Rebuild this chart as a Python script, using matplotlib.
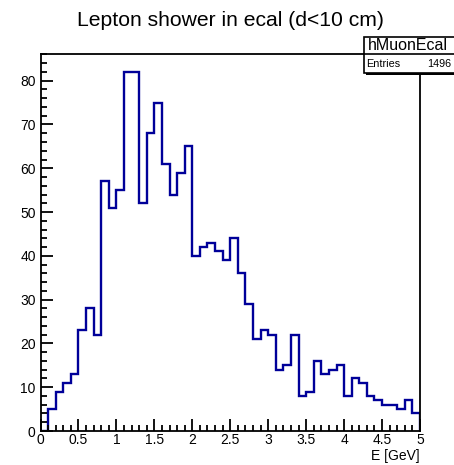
import numpy as np
import matplotlib
matplotlib.use("Agg")
import matplotlib.pyplot as plt
from matplotlib.patches import Rectangle
from matplotlib.ticker import MultipleLocator

plt.rcParams['font.family'] = ['Liberation Sans', 'DejaVu Sans']

# Histogram data: 50 bins from 0 to 5 GeV
bin_edges = np.linspace(0.0, 5.0, 51)
counts = [0, 5, 9, 11, 13, 23, 28, 22, 57, 51,
          55, 82, 82, 52, 68, 75, 61, 54, 59, 65,
          40, 42, 43, 41, 39, 44, 36, 29, 21, 23,
          22, 14, 15, 22, 8, 9, 16, 13, 14, 15,
          8, 12, 11, 8, 7, 6, 6, 5, 7, 4]
title = "Lepton shower in ecal (d<10 cm)"
hist_name = "hMuonEcal"
entries = 1496
xlabel = "E [GeV]"

W, H = 454, 465
fig = plt.figure(figsize=(W / 100, H / 100), dpi=100)
ax = fig.add_axes([40.5 / W, 34 / H, (420 - 40.5) / W, (431 - 54) / H])

ax.stairs(counts, bin_edges, baseline=0, color='#000099', lw=1.7)
ax.set_xlim(0, 5)
ax.set_ylim(0, max(counts) * 1.05)

for s in ['left', 'bottom', 'top', 'right']:
    ax.spines[s].set_linewidth(1.3)

ax.xaxis.set_major_locator(MultipleLocator(0.5))
ax.xaxis.set_minor_locator(MultipleLocator(0.1))
ax.yaxis.set_major_locator(MultipleLocator(10))
ax.yaxis.set_minor_locator(MultipleLocator(2))
ax.tick_params(axis='both', which='both', direction='in', top=False, right=False, width=1.3)
ax.tick_params(axis='both', which='major', length=8.5, labelsize=10)
ax.tick_params(axis='both', which='minor', length=4.5)
ax.tick_params(axis='x', which='major', pad=1.5)
ax.tick_params(axis='y', which='major', pad=3.5)
ax.xaxis.set_major_formatter(matplotlib.ticker.FuncFormatter(lambda v, p: ('%g' % v)))

fig.text(230 / W, 1 - 21 / H, title, ha='center', va='center', fontsize=15.2)
fig.text(420 / W, 1 - 456 / H, xlabel, ha='right', va='center', fontsize=10)

# Stats box
bx0, bx1 = 363.5, 454.5
by_top, by_mid, by_bot = 36.7, 54.3, 73.3
def fx(x):
    return x / W
def fy(y):
    return 1 - y / H
shadow = Rectangle((fx(bx0 + 2), fy(by_bot + 2)), fx(bx1 - bx0), (by_bot - by_top) / H,
                   transform=fig.transFigure, facecolor='black', edgecolor='black', lw=0, zorder=5)
box = Rectangle((fx(bx0), fy(by_bot)), fx(bx1 - bx0), (by_bot - by_top) / H,
                transform=fig.transFigure, facecolor='white', edgecolor='black', lw=1.2, zorder=6)
fig.patches.extend([shadow, box])
fig.add_artist(plt.Line2D([fx(bx0), fx(bx1)], [fy(by_mid), fy(by_mid)], transform=fig.transFigure,
                          color='black', lw=1.2, zorder=7))
fig.text(fx(407.5), fy((by_top + by_mid) / 2 + 0.5), hist_name, ha='center', va='center', fontsize=11.5, zorder=8)
fig.text(fx(366), fy((by_mid + by_bot) / 2), "Entries", ha='left', va='center', fontsize=7.8, zorder=8)
fig.text(fx(451), fy((by_mid + by_bot) / 2), str(entries), ha='right', va='center', fontsize=7.8, zorder=8)

fig.savefig("out.png", dpi=100)
